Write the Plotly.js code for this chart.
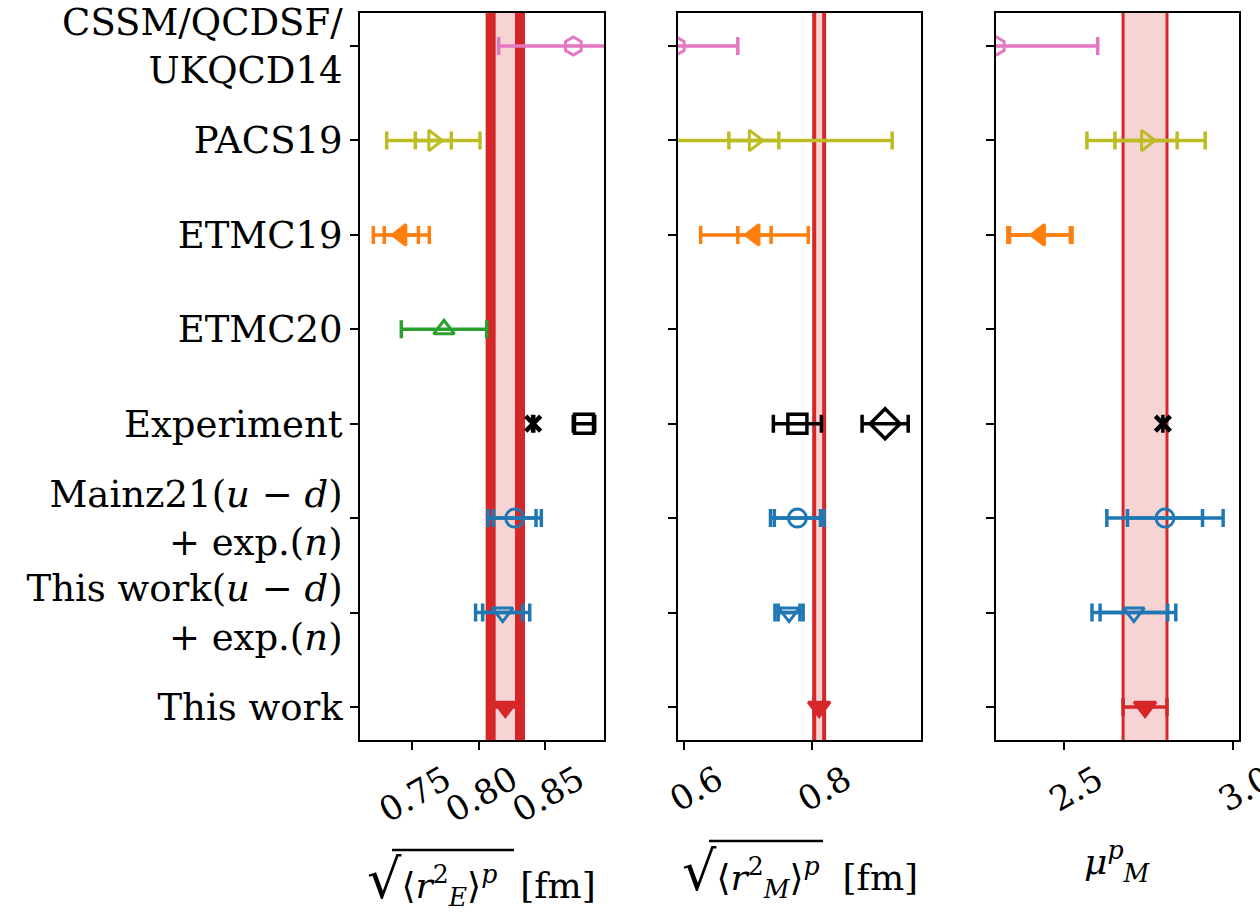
<!DOCTYPE html>
<html>
<head>
<meta charset="utf-8">
<script src="https://cdn.plot.ly/plotly-3.0.1.min.js"></script>
<style>html,body{margin:0;padding:0;background:#fff;}</style>
</head>
<body>
<div id="chart" style="width:1260px;height:916px;"></div>
<script>
// ---- categories (top to bottom) ----
const rows = [
  "CSSM/QCDSF/<br>UKQCD14",
  "PACS19",
  "ETMC19",
  "ETMC20",
  "Experiment",
  "Mainz21(<i>u</i> − <i>d</i>)<br>+ exp.(<i>n</i>)",
  "This work(<i>u</i> − <i>d</i>)<br>+ exp.(<i>n</i>)",
  "This work"
];
const symbols = ["hexagon-open","triangle-right-open","triangle-left","triangle-up-open",null,"circle-open","triangle-down-open","triangle-down"];
const colors  = ["#e377c2","#bcbd22","#ff7f0e","#2ca02c",null,"#1f77b4","#1f77b4","#d62728"];

// ---- electric radius [fm] ----
const rE      = [0.871, 0.766, 0.742, 0.774, null, 0.827, 0.818, 0.820];
const rE_stat = [0.056, 0.0135, 0.0128, 0.032, null, 0.016, 0.015, 0.011];
const rE_tot  = [0.056, 0.035, 0.021, 0.032, null, 0.020, 0.0203, 0.011];
// ---- magnetic radius [fm] ----
const rM      = [0.588, 0.709, 0.710, null, null, 0.777, 0.764, 0.811];
const rM_stat = [0.096, 0.039, 0.026, null, null, 0.036, 0.017, 0.0078];
const rM_tot  = [0.096, 0.216, 0.084, null, null, 0.042, 0.022, 0.0078];
// ---- magnetic moment ----
const mu      = [2.30, 2.743, 2.429, null, null, 2.799, 2.707, 2.740];
const mu_stat = [0.30, 0.092, 0.090, null, null, 0.111, 0.100, 0.065];
const mu_tot  = [0.30, 0.175, 0.095, null, null, 0.172, 0.124, 0.065];

// ---- experiment ----
const expE_val = [0.8409, 0.879];
const expE_err = [0.0004, 0.008];
const expE_sym = ["x-thin-open", "square-open"];
const expM_val = [0.777, 0.914];
const expM_err = [0.0375, 0.036];
const expM_sym = ["square-open", "diamond-open"];
const expMu_val = [2.7928];
const expMu_err = [0.0];
const expMu_sym = ["x-thin-open"];

// ---- tick labels / titles ----
const xTicks1 = [0.75, 0.80, 0.85], xTickText1 = ["0.75", "0.80", "0.85"];
const xTicks2 = [0.6, 0.8], xTickText2 = ["0.6", "0.8"];
const xTicks3 = [2.5, 3.0], xTickText3 = ["2.5", "3.0"];
const titles = [
  "<span style='font-size:54px'>√</span>⟨<i>r</i><sup>2</sup><sub><i>E</i></sub>⟩<sup><i>p</i></sup>  [fm]",
  "<span style='font-size:54px'>√</span>⟨<i>r</i><sup>2</sup><sub><i>M</i></sub>⟩<sup><i>p</i></sup>  [fm]",
  "<i>μ</i><sup><i>p</i></sup><sub><i>M</i></sub>"
];

const bandLineWidth = [10, 4, 3];

const panels = [
  {val: rE, stat: rE_stat, tot: rE_tot, ev: expE_val, ee: expE_err, es: expE_sym, xa: "x", ya: "y"},
  {val: rM, stat: rM_stat, tot: rM_tot, ev: expM_val, ee: expM_err, es: expM_sym, xa: "x2", ya: "y2"},
  {val: mu, stat: mu_stat, tot: mu_tot, ev: expMu_val, ee: expMu_err, es: expMu_sym, xa: "x3", ya: "y3"}
];

const traces = [];
const shapes = [];
panels.forEach((p, k) => {
  const c = p.val[7], e = p.stat[7];
  shapes.push({type: "rect", xref: p.xa, yref: p.ya + " domain", x0: c - e, x1: c + e, y0: 0, y1: 1,
    fillcolor: "rgba(214,39,40,0.2)", line: {width: 0}, layer: "below"});
  [c - e, c + e].forEach(xv => shapes.push({type: "line", xref: p.xa, yref: p.ya + " domain",
    x0: xv, x1: xv, y0: 0, y1: 1, line: {color: "#d62728", width: bandLineWidth[k]}, layer: "below"}));

  rows.forEach((r, i) => {
    if (p.val[i] === null || i === 4) return;
    if (p.tot[i] > p.stat[i]) {
      traces.push({type: "scatter", mode: "markers", x: [p.val[i]], y: [r], xaxis: p.xa, yaxis: p.ya,
        marker: {size: 1, opacity: 0}, showlegend: false, hoverinfo: "skip",
        error_x: {type: "data", array: [p.tot[i]], color: colors[i], thickness: 3.5, width: 9}});
    }
    traces.push({type: "scatter", mode: "markers", x: [p.val[i]], y: [r], xaxis: p.xa, yaxis: p.ya,
      marker: {symbol: symbols[i], size: i === 7 ? 19 : 18, color: colors[i], line: {color: colors[i], width: 3}},
      showlegend: false,
      error_x: {type: "data", array: [p.stat[i]], color: colors[i], thickness: 3.5, width: 9}});
  });
  p.ev.forEach((v, j) => {
    const s = p.es[j];
    traces.push({type: "scatter", mode: "markers", x: [v], y: [rows[4]], xaxis: p.xa, yaxis: p.ya,
      marker: {symbol: s, size: s === "diamond-open" ? 23 : (s === "x-thin-open" ? 15 : 19),
               color: "black", line: {color: "black", width: s === "x-thin-open" ? 4.5 : 3.5}},
      showlegend: false,
      error_x: {type: "data", array: [p.ee[j]], color: "black", thickness: 3.5, width: 9}});
  });
});

// overline of the square-root signs in the axis titles (decoration, paper coordinates)
const overlines = [[392, 514, 850], [709, 823, 841]];
overlines.forEach(o => shapes.push({type: "line", xref: "paper", yref: "paper",
  x0: o[0] / 1260, x1: o[1] / 1260, y0: 1 - o[2] / 916, y1: 1 - o[2] / 916,
  line: {color: "black", width: 2.5}}));

const tickFont = {family: "DejaVu Serif", size: 34, color: "black"};
const yFont = {family: "DejaVu Serif", size: 37, color: "black"};
const yDom = [1 - 740 / 916, 1 - 13 / 916];
function xax(dom, range, tv, tt, anchor) {
  return {domain: dom, range: range, tickvals: tv, ticktext: tt, tickangle: -30, ticks: "outside",
    ticklen: 8, tickwidth: 2, tickcolor: "black", showline: true, mirror: true, linewidth: 2, linecolor: "black",
    showgrid: false, zeroline: false, tickfont: tickFont, automargin: false, anchor: anchor,
    ticklabelshift: 33, ticklabelstandoff: -3, ticklabeloverflow: "allow"};
}
function yax(anchor, labels) {
  return {domain: yDom, anchor: anchor, type: "category", categoryarray: rows, range: [7.35, -0.35],
    ticks: "outside", ticklen: 8, tickwidth: 2, tickcolor: "black", showline: true, mirror: true,
    linewidth: 2, linecolor: "black", showgrid: false, zeroline: false, showticklabels: labels,
    tickfont: yFont, automargin: false};
}

const xDoms = [[360/1260, 604/1260], [678/1260, 921/1260], [996/1260, 1239/1260]];
const titleY = [880, 872, 862];
const annotations = titles.map((t, k) => ({
  text: t, xref: "paper", yref: "paper", x: (xDoms[k][0] + xDoms[k][1]) / 2, y: 1 - titleY[k] / 916,
  xanchor: "center", yanchor: "middle", showarrow: false,
  font: {family: "DejaVu Serif", size: 36, color: "black"}
}));

const layout = {
  width: 1260, height: 916,
  margin: {l: 0, r: 0, t: 0, b: 0},
  paper_bgcolor: "white", plot_bgcolor: "white",
  showlegend: false,
  xaxis: xax(xDoms[0], [0.711, 0.894], xTicks1, xTickText1, "y"),
  xaxis2: xax(xDoms[1], [0.5906, 0.970], xTicks2, xTickText2, "y2"),
  xaxis3: xax(xDoms[2], [2.299, 3.018], xTicks3, xTickText3, "y3"),
  yaxis: yax("x", true),
  yaxis2: yax("x2", false),
  yaxis3: yax("x3", false),
  shapes: shapes,
  annotations: annotations
};

Plotly.newPlot("chart", traces, layout, {displayModeBar: false, staticPlot: true});
</script>
</body>
</html>
